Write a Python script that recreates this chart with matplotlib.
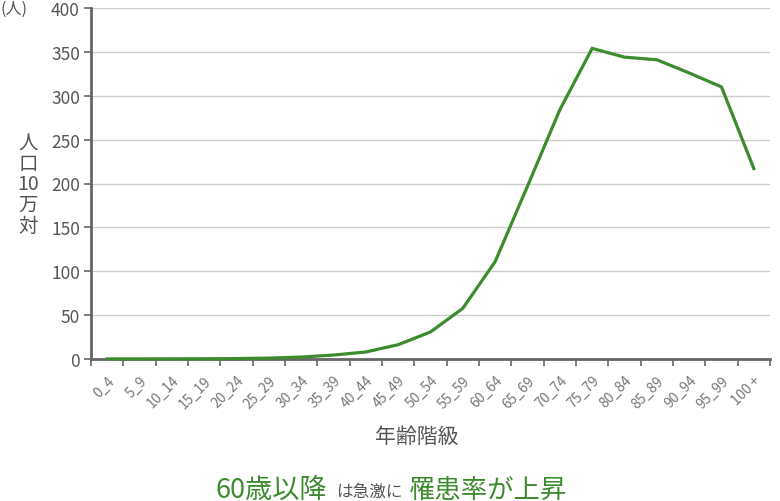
import matplotlib
matplotlib.use("Agg")
import matplotlib.pyplot as plt
import numpy as np

plt.rcParams['font.family'] = ['Noto Sans CJK JP', 'DejaVu Sans']

categories = ["0_4", "5_9", "10_14", "15_19", "20_24", "25_29", "30_34", "35_39",
              "40_44", "45_49", "50_54", "55_59", "60_64", "65_69", "70_74", "75_79",
              "80_84", "85_89", "90_94", "95_99", "100 +"]
values = [0.1, 0.1, 0.2, 0.3, 0.5, 1.0, 2.2, 4.5, 8.0, 16.3, 30.8, 57.8, 111,
          197, 284, 354, 344, 341, 326, 310, 217]
yticks = [0, 50, 100, 150, 200, 250, 300, 350, 400]

GREEN = '#3d8b2f'
GRAY = '#555555'
AXC = '#666666'

fig = plt.figure(figsize=(7.8, 5.02), dpi=100)
ax = fig.add_axes([91/780, 1-360/502, 679/780, 351/502])

x = np.arange(len(categories))
ax.plot(x, values, color=GREEN, lw=2.3, solid_joinstyle='miter', zorder=3, clip_on=False)

ax.set_xlim(-0.5, len(categories)-0.5)
ax.set_ylim(0, 400)
ax.set_yticks(yticks)
ax.set_yticklabels([str(v) for v in yticks], fontsize=12.5, color=GRAY)
ax.grid(axis='y', color='#cccccc', lw=1)
ax.set_axisbelow(True)

ax.set_xticks(x)
ax.set_xticklabels(categories, rotation=45, ha='right', rotation_mode='anchor',
                   fontsize=10, color='#777777')
ax.set_xticks(np.arange(len(categories)+1)-0.5, minor=True)
ax.tick_params(axis='x', which='major', length=0, pad=10)
ax.tick_params(axis='x', which='minor', length=5, width=1.2, color=AXC)
ax.tick_params(axis='y', length=5, width=1.2, color=AXC, pad=3)

for s in ['top', 'right']:
    ax.spines[s].set_visible(False)
for s in ['left', 'bottom']:
    ax.spines[s].set_color(AXC)
    ax.spines[s].set_linewidth(2)

# y label stacked vertically
fig.text(28/780, 1-185/502, "人\n口\n10\n万\n対", ha='center', va='center',
         fontsize=14, color=GRAY, linespacing=0.97)
fig.text(1/780, 1-9/502, "(人)", ha='left', va='center', fontsize=11.5, color=GRAY)

fig.text(417/780, 1-437/502, "年齢階級", ha='center', va='center', fontsize=15, color=GRAY)

# bottom caption
y_cap = 1-490/502
fig.text(215/780, y_cap, "60歳以降", ha='left', va='center', fontsize=19.5, color=GREEN)
fig.text(336/780, y_cap-0.004, "は急激に", ha='left', va='center', fontsize=12, color=GRAY)
fig.text(409/780, y_cap, "罹患率が上昇", ha='left', va='center', fontsize=19, color=GREEN)

fig.savefig("out.png", dpi=100)
